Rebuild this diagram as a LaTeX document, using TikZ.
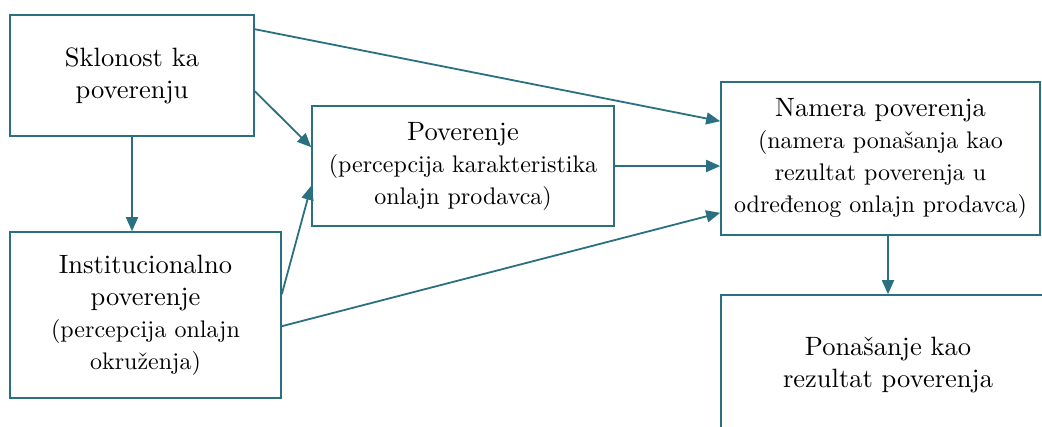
\documentclass[tikz,border=0pt]{standalone}
\usepackage{fontspec}
\setmainfont{lmroman10-regular}[Extension=.otf]
\usetikzlibrary{arrows.meta,calc}
\definecolor{tealline}{RGB}{42,112,128}
\newcommand\smf{\fontsize{24}{32}\selectfont}
\begin{document}
\begin{tikzpicture}[x=1pt,y=-1pt,
  box/.style={draw=tealline, line width=1.6pt, align=center, inner sep=0pt,
    font=\fontsize{26.5}{32}\selectfont},
  arr/.style={draw=tealline, line width=1.8pt, -{Triangle[length=14pt,width=12pt]}}]
\useasboundingbox (0,0) rectangle (1042,426);
\node[box, minimum width=244pt, minimum height=121pt] (A) at (132,75.5) {Sklonost ka\\poverenju};
\node[box, minimum width=271pt, minimum height=166pt] (B) at (145.5,315) {Institucionalno\\poverenje\\{\smf (percepcija onlajn}\\{\smf okruženja)}};
\node[box, minimum width=302pt, minimum height=120pt] (C) at (463,166) {Poverenje\\{\smf (percepcija karakteristika}\\{\smf onlajn prodavca)}};
\node[box, minimum width=319pt, minimum height=153pt] (D) at (880.5,158.5) {Namera poverenja\\{\smf (namera ponašanja kao}\\{\smf rezultat poverenja u}\\{\smf određenog onlajn prodavca)}};
\node[box, minimum width=334pt, minimum height=140pt] (E) at (888,365) {Ponašanje kao\\rezultat poverenja};
\draw[arr] ($(A.north east)+(0,15)$) -- ($(D.north west)+(0,40)$);
\draw[arr] ($(A.north east)+(0,77)$) -- ($(C.north west)+(0,42)$);
\draw[arr] (A.south) -- (A.south |- B.north);
\draw[arr] ($(B.north east)+(0,63)$) -- ($(C.south west)+(0,-41)$);
\draw[arr] ($(B.north east)+(0,95)$) -- ($(D.south west)+(0,-23)$);
\draw[arr] (C.east) -- (C.east -| D.west);
\draw[arr] (D.south -| E.north) -- (E.north);
\end{tikzpicture}
\end{document}
